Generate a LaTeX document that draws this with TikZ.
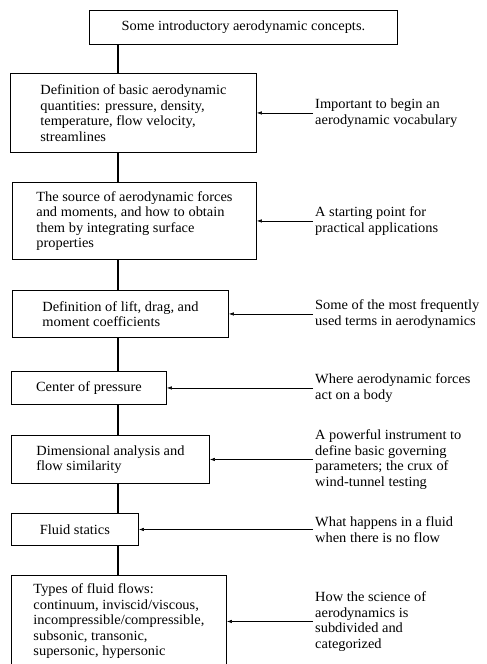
\documentclass[tikz,border=0pt]{standalone}
\usepackage{fontspec}
\setmainfont[FakeStretch=1.03]{Liberation Serif}
\usetikzlibrary{arrows.meta}

\begin{document}
\begin{tikzpicture}[x=1pt, y=-1pt,
    box/.style={draw, line width=0.9pt, anchor=north west, align=left, inner xsep=4pt, inner ysep=0pt, font=\fontsize{14}{15.5}\selectfont},
    note/.style={anchor=west, align=left, inner sep=2pt, font=\fontsize{14}{15.5}\selectfont},
    feed/.style={line width=0.6pt, -{Latex[length=5pt, width=3.5pt]}},
    spine/.style={line width=1.6pt}]
    \useasboundingbox (0,0) rectangle (487,664);
    \clip (0,0) rectangle (487,664);

    \coordinate (sp) at (118,0);
    \coordinate (nx) at (313,0);

    \node [box, minimum width=308pt, minimum height=34pt] (intro) at (89,10) {Some introductory aerodynamic concepts.};
    \node [box, minimum width=246pt, minimum height=79pt] (quant) at (10,73) {Definition of basic aerodynamic\\ quantities: pressure, density,\\ temperature, flow velocity,\\ streamlines};
    \node [box, minimum width=244pt, minimum height=77pt] (forces) at (12,182) {The source of aerodynamic forces\\ and moments, and how to obtain\\ them by integrating surface\\ properties};
    \node [box, minimum width=216pt, minimum height=47pt] (coeff) at (12,290) {Definition of lift, drag, and\\ moment coefficients};
    \node [box, minimum width=155pt, minimum height=33pt] (cp) at (11,371) {Center of pressure};
    \node [box, minimum width=198pt, minimum height=48pt] (dim) at (11,435) {Dimensional analysis and\\ flow similarity};
    \node [box, minimum width=127pt, minimum height=32pt] (stat) at (11,513) {Fluid statics};
    \node [box, minimum width=215pt, minimum height=92pt] (types) at (11,575) {Types of fluid flows:\\ continuum, inviscid/viscous,\\ incompressible/compressible,\\ subsonic, transonic,\\ supersonic, hypersonic};

    \node [note] (vocab) at (quant.east -| nx) {Important to begin an\\ aerodynamic vocabulary};
    \node [note] (start) at (forces.east -| nx) {A starting point for\\ practical applications};
    \node [note] (terms) at (coeff.east -| nx) {Some of the most frequently\\ used terms in aerodynamics};
    \node [note] (where) at (cp.east -| nx) {Where aerodynamic forces\\ act on a body};
    \node [note] (instr) at (dim.east -| nx) {A powerful instrument to\\ define basic governing\\ parameters; the crux of\\ wind-tunnel testing};
    \node [note] (noflow) at (stat.east -| nx) {What happens in a fluid\\ when there is no flow};
    \node [note] (science) at (types.east -| nx) {How the science of\\ aerodynamics is\\ subdivided and\\ categorized};

    \draw [spine] (intro.south -| sp) -- (quant.north -| sp);
    \draw [spine] (quant.south -| sp) -- (forces.north -| sp);
    \draw [spine] (forces.south -| sp) -- (coeff.north -| sp);
    \draw [spine] (coeff.south -| sp) -- (cp.north -| sp);
    \draw [spine] (cp.south -| sp) -- (dim.north -| sp);
    \draw [spine] (dim.south -| sp) -- (stat.north -| sp);
    \draw [spine] (stat.south -| sp) -- (types.north -| sp);

    \draw [feed] (vocab.west) -- (quant.east);
    \draw [feed] (start.west) -- (forces.east);
    \draw [feed] (terms.west) -- (coeff.east);
    \draw [feed] (where.west) -- (cp.east);
    \draw [feed] (instr.west) -- (dim.east);
    \draw [feed] (noflow.west) -- (stat.east);
    \draw [feed] (science.west) -- (types.east);
\end{tikzpicture}
\end{document}
